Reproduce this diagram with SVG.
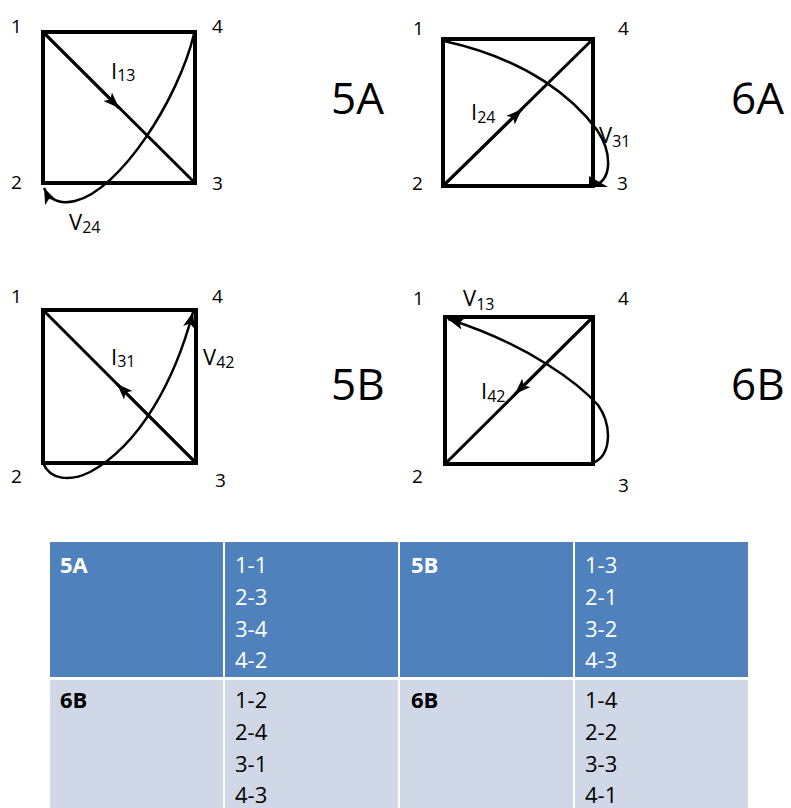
<svg xmlns="http://www.w3.org/2000/svg" width="791" height="808" viewBox="0 0 791 808">
<defs>
<marker id="arr" markerUnits="userSpaceOnUse" markerWidth="18" markerHeight="14" refX="16" refY="6" orient="auto">
<path d="M0,0 L16,6 L0,12 L4,6 z" fill="#000"/>
</marker>
<style>
.sq{fill:none;stroke:#000;stroke-width:4}
.dg{fill:none;stroke:#000;stroke-width:3}
.cv{fill:none;stroke:#000;stroke-width:2.5}
.n{font-family:"Open Sans","Liberation Sans",Arial,sans-serif;font-size:19px;fill:#000}
.lb{font-family:"Open Sans","Liberation Sans",Arial,sans-serif;font-size:22px;fill:#000}
.sb{font-size:16px}
.big{font-family:"Open Sans","Liberation Sans",Arial,sans-serif;font-size:44px;fill:#000}
.t{font-family:"Open Sans","Liberation Sans",Arial,sans-serif;font-size:22px}
.w{fill:#fff}
.k{fill:#000}
.b{font-weight:bold}
</style>
</defs>
<rect width="791" height="808" fill="#fff"/>

<g id="p5A">
<rect class="sq" x="43" y="32" width="152" height="151"/>
<line class="dg" x1="43" y1="32" x2="195" y2="183"/>
<path class="dg" d="M43,32 L119,108" marker-end="url(#arr)"/>
<path class="cv" d="M194,34 C178,100 120,190 75,201 C58,205 49,199 44,188" marker-end="url(#arr)"/>
<text class="n" x="11" y="33">1</text>
<text class="n" x="212" y="33">4</text>
<text class="n" x="11" y="189">2</text>
<text class="n" x="212" y="190">3</text>
<text class="lb" x="111" y="79">I<tspan class="sb" dy="2">13</tspan></text>
<text class="lb" x="69" y="230">V<tspan class="sb" dy="3">24</tspan></text>
<text class="big" x="331" y="114">5A</text>
</g>

<g id="p6A">
<rect class="sq" x="443" y="39" width="150" height="147"/>
<line class="dg" x1="443" y1="186" x2="593" y2="39"/>
<path class="dg" d="M443,186 L522,109" marker-end="url(#arr)"/>
<path class="cv" d="M444,41 C530,60 575,100 597,130 C612,152 612,178 596,185"/>
<path d="M589,176 L608,187 L589,187 z" fill="#000"/>
<text class="n" x="413" y="35">1</text>
<text class="n" x="618" y="35">4</text>
<text class="n" x="412" y="190">2</text>
<text class="n" x="617" y="190">3</text>
<text class="lb" x="471" y="120">I<tspan class="sb" dy="3">24</tspan></text>
<text class="lb" x="599" y="143">V<tspan class="sb" dy="4">31</tspan></text>
<text class="big" x="731" y="114">6A</text>
</g>

<g id="p5B">
<rect class="sq" x="43" y="310" width="153" height="153"/>
<line class="dg" x1="43" y1="310" x2="196" y2="463"/>
<path class="dg" d="M196,463 L117,384" marker-end="url(#arr)"/>
<path class="cv" d="M43,463 C50,480 70,482 90,472 C140,445 175,380 193,312" marker-end="url(#arr)"/>
<text class="n" x="11" y="303">1</text>
<text class="n" x="212" y="303">4</text>
<text class="n" x="11" y="483">2</text>
<text class="n" x="215" y="487">3</text>
<text class="lb" x="111" y="365">I<tspan class="sb" dy="2">31</tspan></text>
<text class="lb" x="203" y="365">V<tspan class="sb" dy="3">42</tspan></text>
<text class="big" x="331" y="400">5B</text>
</g>

<g id="p6B">
<rect class="sq" x="445" y="317" width="148" height="147"/>
<line class="dg" x1="593" y1="317" x2="445" y2="464"/>
<path class="dg" d="M593,317 L515,394" marker-end="url(#arr)"/>
<path class="cv" d="M593,463 C612,455 612,425 598,405 C580,385 530,345 448,319" marker-end="url(#arr)"/>
<text class="n" x="413" y="305">1</text>
<text class="n" x="618" y="305">4</text>
<text class="n" x="412" y="483">2</text>
<text class="n" x="618" y="492">3</text>
<text class="lb" x="463" y="306">V<tspan class="sb" dy="4">13</tspan></text>
<text class="lb" x="481" y="399">I<tspan class="sb" dy="3">42</tspan></text>
<text class="big" x="731" y="400">6B</text>
</g>

<g id="table">
<rect x="50" y="542" width="173" height="135" fill="#4F81BD"/>
<rect x="225" y="542" width="173" height="135" fill="#4F81BD"/>
<rect x="400" y="542" width="173" height="135" fill="#4F81BD"/>
<rect x="575" y="542" width="173" height="135" fill="#4F81BD"/>
<rect x="50" y="680" width="173" height="128" fill="#D0D8E8"/>
<rect x="225" y="680" width="173" height="128" fill="#D0D8E8"/>
<rect x="400" y="680" width="173" height="128" fill="#D0D8E8"/>
<rect x="575" y="680" width="173" height="128" fill="#D0D8E8"/>
<text class="t w b" x="60" y="573">5A</text>
<text class="t w" x="235" y="573">1-1</text>
<text class="t w" x="235" y="605">2-3</text>
<text class="t w" x="235" y="637">3-4</text>
<text class="t w" x="235" y="668">4-2</text>
<text class="t w b" x="411" y="573">5B</text>
<text class="t w" x="585" y="573">1-3</text>
<text class="t w" x="585" y="605">2-1</text>
<text class="t w" x="585" y="637">3-2</text>
<text class="t w" x="585" y="668">4-3</text>
<text class="t k b" x="60" y="708">6B</text>
<text class="t k" x="235" y="708">1-2</text>
<text class="t k" x="235" y="740">2-4</text>
<text class="t k" x="235" y="772">3-1</text>
<text class="t k" x="235" y="803">4-3</text>
<text class="t k b" x="411" y="708">6B</text>
<text class="t k" x="585" y="708">1-4</text>
<text class="t k" x="585" y="740">2-2</text>
<text class="t k" x="585" y="772">3-3</text>
<text class="t k" x="585" y="803">4-1</text>
</g>
</svg>
